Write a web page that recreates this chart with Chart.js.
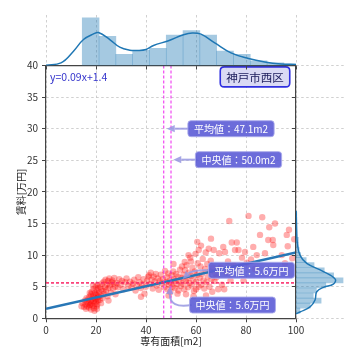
<!DOCTYPE html>
<html>
<head>
<meta charset="utf-8">
<script src="https://cdn.jsdelivr.net/npm/chart.js@4.4.0/dist/chart.umd.min.js"></script>
<style>
  html, body { margin: 0; padding: 0; background: #fff; }
  #wrap { position: relative; width: 360px; height: 360px; }
  #wrap canvas { position: absolute; left: 0; top: 0; }
</style>
</head>
<body>
<div id="wrap">
  <canvas id="main" width="360" height="360"></canvas>
  <canvas id="top" width="360" height="360"></canvas>
  <canvas id="side" width="360" height="360"></canvas>
</div>
<script>
// listings: [area m2, rent 万円]
const listings = [
  [14.2,1.9],[14.6,2.4],[15.2,1.8],[15.5,2.8],[15.8,2.2],[16.0,1.5],[16.2,3.2],[16.3,2.6],[16.5,1.9],[16.8,3.0],
  [17.0,2.4],[17.2,1.7],[17.4,3.4],[17.5,4.0],[17.6,2.1],[17.8,2.8],[17.9,2.2],[18.0,3.8],[18.0,1.4],[18.2,2.5],
  [18.3,4.2],[18.5,3.1],[18.6,2.0],[18.8,3.6],[18.8,5.2],[19.0,2.7],[19.0,4.6],[19.2,1.6],[19.3,3.3],[19.4,1.2],
  [19.5,2.3],[19.6,4.0],[19.8,3.0],[19.9,5.0],[20.0,2.6],[20.1,3.7],[20.2,1.9],[20.3,4.4],[20.4,1.5],[20.5,3.2],
  [20.5,2.2],[20.6,5.3],[20.7,3.9],[20.8,2.8],[20.9,4.8],[21.0,3.4],
  [21.3,4.1],[21.5,2.9],[21.7,5.0],[22.0,3.6],[22.0,2.4],[22.2,4.6],[22.4,5.5],[22.6,3.2],[22.9,4.3],[23.1,5.8],
  [23.3,3.9],[23.6,4.9],[23.8,6.1],[24.0,4.4],[24.3,5.3],[24.6,3.5],[24.8,5.9],[25.0,4.8],[25.0,2.8],[25.3,6.3],
  [25.6,5.2],[25.9,4.1],[26.2,5.7],[26.5,6.0],[26.8,4.7],[27.0,5.5],[27.3,6.4],[27.6,5.0],[27.8,3.8],
  [28.3,5.6],[28.8,4.9],[29.3,6.2],[29.8,5.3],[30.4,5.9],[31.0,4.6],[31.6,5.7],[32.2,6.3],[32.9,5.1],[33.6,5.8],
  [34.2,4.9],[34.8,5.5],[35.3,6.1],[35.8,4.4],[36.3,5.2],[36.9,6.5],[37.4,5.7],[37.9,4.8],[38.0,3.4],[38.5,5.4],
  [39.0,6.2],[39.4,3.9],[39.9,5.0],[40.4,5.9],[40.9,6.6],
  [41.2,6.8],[41.5,5.4],[41.9,7.2],[42.3,6.1],[42.7,4.7],[43.1,6.6],[43.5,5.8],[43.9,7.0],[44.3,5.2],[44.7,6.3],
  [45.1,4.5],[45.5,5.9],[45.9,6.9],[46.3,5.5],[46.8,6.2],[47.3,4.9],[47.6,7.5],
  [48.0,5.7],[48.3,6.5],[48.6,4.6],[48.9,7.1],[49.0,3.6],[49.2,5.3],[49.5,6.0],[49.8,4.2],[50.0,5.6],[50.3,6.8],
  [50.6,5.0],[50.9,7.4],[51.0,8.6],[51.2,6.2],[51.5,4.8],[51.8,5.9],[52.1,7.0],[52.4,5.4],[52.6,3.9],[52.7,6.6],
  [53.0,4.4],[53.3,6.0],[53.6,7.7],[53.9,5.1],[54.2,6.4],[54.4,8.2],
  [54.7,5.5],[55.0,6.9],[55.3,4.6],[55.5,8.9],[55.6,7.6],[55.9,5.9],[56.0,3.8],[56.2,8.4],[56.5,6.3],[56.8,4.9],
  [57.0,10.0],[57.1,7.2],[57.4,5.6],[57.7,9.6],[58.0,6.7],[58.0,9.0],[58.3,5.2],[58.6,8.0],[58.9,6.1],[59.0,3.5],
  [59.2,4.3],[59.5,7.4],[59.8,10.2],[60.0,4.6],[60.1,5.8],[60.4,6.9],[60.5,12.1],[60.7,8.7],[61.0,5.0],[61.1,10.8],
  [61.5,6.4],[61.8,8.2],[62.0,11.5],[62.1,5.3],[62.4,7.0],[62.7,9.4],[63.0,6.0],[63.3,4.7],[63.6,7.8],[63.9,10.4],
  [64.0,3.6],[64.2,5.7],[64.5,8.6],[64.8,6.6],[65.1,11.0],[65.4,5.0],[65.6,7.4],[65.9,9.1],[66.0,12.6],[66.2,6.2],
  [66.5,4.2],[66.8,8.0],[67.1,10.8],[67.4,5.9],[67.7,7.1],
  [68.2,6.5],[68.9,4.6],[69.3,10.3],[69.8,8.0],[70.4,5.3],[70.9,11.3],[71.3,4.6],[71.6,10.5],[72.2,7.2],[72.8,9.0],
  [73.3,15.4],[73.8,6.0],[74.3,12.0],
  [75.0,8.4],[75.6,10.8],[76.3,12.0],[77.0,10.8],[77.6,7.4],[78.4,9.6],[79.0,6.0],[79.6,10.5],[80.3,8.8],[81.0,16.2],
  [82.0,9.3],[82.9,11.3],[83.6,7.8],[84.3,10.0],[85.6,13.2],[86.5,16.0],[87.6,10.3],
  [88.9,12.4],[89.3,14.4],[90.7,12.4],[90.9,11.6],[91.6,15.0],[94.3,10.0],
  [95.6,8.7],[96.3,13.2],[96.7,11.4],[97.2,14.0],[98.5,9.5],[99.3,12.5]
];

// fitted line, as drawn
const regLine = [[0, 1.5], [100, 10.4]];
const fitText = 'y=0.09x+1.4';
const wardName = '神戸市西区';
const areaMean = 47.1, areaMedian = 50.0;
const rentMean = 5.6, rentMedian = 5.6;

// top marginal: area histogram + kde
const areaBins = [17.86, 24.58, 31.30, 38.02, 44.74, 51.46, 58.18, 64.90, 71.62, 78.34, 85.06, 91.78, 98.50];
const areaCounts = [72, 44, 17, 23, 26, 46, 53, 46, 22, 17, 7, 4, 2];
const areaKde = [[0,0.5],[6,3.9],[11,21.6],[15,39.3],[19,47.8],[21,49.9],[25.5,39.3],[29.5,27.7],[33.5,23.1],
  [36.5,22.7],[40,24.2],[43,30.3],[49,37.5],[55,46.6],[58.5,49.3],[62,47.4],[67.5,34.2],[74,19.1],[81,10.6],
  [87.5,5.4],[94,2.4],[100,1.5]];

// right marginal: rent histogram + kde
const rentBins = [1.2, 2.0, 2.8, 3.6, 4.4, 5.2, 6.0, 6.8, 7.6, 8.4, 9.2, 10.0, 10.8, 11.6, 12.4, 13.2, 14.0, 14.8, 15.6, 16.4];
const rentCounts = [5, 18, 32, 22, 26, 38, 60, 48, 36, 23, 13, 6, 4, 3, 3, 1, 1, 1, 1, 1];
const rentKde = [[0.7,0],[1.0,5.1],[1.8,17.9],[2.9,24.3],[4.2,26.4],[4.9,35],[5.4,47.6],[6.2,50],[7.4,35],
  [8.7,13.7],[10.0,5],[11.9,1.7],[14,0.8],[17,0.2]];

const xTicks = [0, 20, 40, 60, 80, 100];
const yTicks = [0, 5, 10, 15, 20, 25, 30, 35, 40];

const FONT = '"Noto Sans CJK JP", "Noto Sans", sans-serif';
Chart.defaults.font.family = FONT;
Chart.defaults.font.size = 10;

const HIST = 'rgba(31,119,180,0.4)';
const KDE = '#1f77b4';
const GRID = '#c4c4c4';
const AXIS = '#444';

function gridOpts() {
  return { color: GRID, lineWidth: 0.8, tickColor: AXIS, tickLength: 4, tickWidth: 1, offset: false };
}
function borderOpts() {
  return { color: AXIS, width: 1.2, dash: [2.5, 2.5] };
}
const noPlugins = { legend: { display: false }, tooltip: { enabled: false } };

// ---- annotations drawn on the main plot ----
function rrect(ctx, x, y, w, h, r) {
  ctx.beginPath();
  ctx.moveTo(x + r, y);
  ctx.lineTo(x + w - r, y); ctx.quadraticCurveTo(x + w, y, x + w, y + r);
  ctx.lineTo(x + w, y + h - r); ctx.quadraticCurveTo(x + w, y + h, x + w - r, y + h);
  ctx.lineTo(x + r, y + h); ctx.quadraticCurveTo(x, y + h, x, y + h - r);
  ctx.lineTo(x, y + r); ctx.quadraticCurveTo(x, y, x + r, y);
  ctx.closePath();
}
function arrow(ctx, sx, sy, cx, cy, tx, ty, color) {
  const a = Math.atan2(ty - cy, tx - cx);
  const hl = 8, hw = 3.6;
  const bx = tx - hl * Math.cos(a), by = ty - hl * Math.sin(a);
  ctx.strokeStyle = color; ctx.fillStyle = color; ctx.lineWidth = 2;
  ctx.setLineDash([]);
  ctx.beginPath(); ctx.moveTo(sx, sy); ctx.quadraticCurveTo(cx, cy, bx, by); ctx.stroke();
  ctx.beginPath();
  ctx.moveTo(tx, ty);
  ctx.lineTo(bx + hw * Math.sin(a), by - hw * Math.cos(a));
  ctx.lineTo(bx - hw * Math.sin(a), by + hw * Math.cos(a));
  ctx.closePath(); ctx.fill();
}

const callouts = [
  { text: '平均値：' + areaMean.toFixed(1) + 'm2', at: [74, 30.0], tip: [48.3, 30.0] },
  { text: '中央値：' + areaMedian.toFixed(1) + 'm2', at: [77, 25.1], tip: [50.9, 25.1] },
  { text: '平均値：' + rentMean.toFixed(1) + '万円', at: [82.2, 7.6], tip: [54.7, 6.2], bend: [58.4, 7.7] },
  { text: '中央値：' + rentMedian.toFixed(1) + '万円', at: [74.6, 2.1], tip: [49.6, 5.1], bend: [49.4, 1.5] }
];

const notes = {
  id: 'notes',
  afterDatasetsDraw(chart) {
    const { ctx, chartArea: ca, scales: { x, y } } = chart;
    ctx.save();
    ctx.beginPath(); ctx.rect(ca.left, ca.top, ca.right - ca.left, ca.bottom - ca.top); ctx.clip();
    ctx.lineWidth = 1;
    ctx.setLineDash([3, 2]);
    ctx.strokeStyle = '#ee22ee';
    [areaMean, areaMedian].forEach(v => {
      const px = x.getPixelForValue(v);
      ctx.beginPath(); ctx.moveTo(px, ca.top); ctx.lineTo(px, ca.bottom); ctx.stroke();
    });
    [[rentMedian, '#ee22ee'], [rentMean, '#ff2020']].forEach(([v, c]) => {
      const py = y.getPixelForValue(v);
      ctx.strokeStyle = c;
      ctx.beginPath(); ctx.moveTo(ca.left, py); ctx.lineTo(ca.right, py); ctx.stroke();
    });
    ctx.restore();

    ctx.save();
    // fitted equation
    ctx.font = '10.5px ' + FONT;
    ctx.fillStyle = '#3535cc';
    ctx.textAlign = 'left'; ctx.textBaseline = 'middle';
    ctx.fillText(fitText, x.getPixelForValue(1.6), y.getPixelForValue(38.2));

    // ward name box
    ctx.font = '11.5px ' + FONT;
    const wx = x.getPixelForValue(83.6), wy = y.getPixelForValue(38.2);
    const ww = ctx.measureText(wardName).width + 12, wh = 20;
    rrect(ctx, wx - ww / 2, wy - wh / 2, ww, wh, 4);
    ctx.fillStyle = '#dadaf4'; ctx.fill();
    ctx.lineWidth = 1.6; ctx.strokeStyle = '#2f2fe0'; ctx.stroke();
    ctx.fillStyle = '#20205e'; ctx.textAlign = 'center';
    ctx.fillText(wardName, wx, wy + 0.5);

    // callouts with arrows
    ctx.font = '10px ' + FONT;
    callouts.forEach(c => {
      const cx = x.getPixelForValue(c.at[0]), cy = y.getPixelForValue(c.at[1]);
      const w = ctx.measureText(c.text).width + 12, h = 16;
      const tx = x.getPixelForValue(c.tip[0]), ty = y.getPixelForValue(c.tip[1]);
      const sx = cx - w / 2 + 2, sy = cy;
      const bx = c.bend ? x.getPixelForValue(c.bend[0]) : (sx + tx) / 2;
      const by = c.bend ? y.getPixelForValue(c.bend[1]) : (sy + ty) / 2;
      arrow(ctx, sx, sy, bx, by, tx, ty, 'rgba(150,150,225,0.85)');
      rrect(ctx, cx - w / 2, cy - h / 2, w, h, 3);
      ctx.fillStyle = 'rgba(92,92,214,0.9)'; ctx.fill();
      ctx.lineWidth = 1; ctx.strokeStyle = 'rgba(170,170,235,0.9)'; ctx.stroke();
      ctx.fillStyle = '#fff'; ctx.textAlign = 'center'; ctx.textBaseline = 'middle';
      ctx.fillText(c.text, cx, cy + 0.5);
    });
    ctx.restore();
  }
};

// ---- main scatter ----
new Chart(document.getElementById('main'), {
  type: 'scatter',
  data: {
    datasets: [
      {
        type: 'line',
        data: regLine.map(([a, r]) => ({ x: a, y: r })),
        borderColor: '#2877b6', borderWidth: 2.5, pointRadius: 0, fill: false, order: 0, clip: 0
      },
      {
        data: listings.map(([a, r]) => ({ x: a, y: r })),
        backgroundColor: 'rgba(255,0,0,0.32)', borderColor: 'rgba(0,0,0,0)', borderWidth: 0,
        pointRadius: 3.2, order: 1, clip: 0
      }
    ]
  },
  options: {
    responsive: false, animation: false, devicePixelRatio: 1, events: [],
    layout: { padding: { top: 65.5, right: 64, left: 0, bottom: 0 } },
    plugins: noPlugins,
    scales: {
      x: {
        type: 'linear', min: 0, max: 100,
        afterBuildTicks: s => { s.ticks = xTicks.map(v => ({ value: v })); },
        ticks: { color: '#333', padding: 2, maxRotation: 0 },
        grid: gridOpts(), border: borderOpts(),
        title: { display: true, text: '専有面積[m2]', color: '#222', font: { size: 10 }, padding: { top: 0, bottom: 13 } },
        afterFit: s => { s.height = 41.7; }
      },
      y: {
        type: 'linear', min: 0, max: 40,
        afterBuildTicks: s => { s.ticks = yTicks.map(v => ({ value: v })); },
        ticks: { color: '#333', padding: 4 },
        grid: gridOpts(), border: borderOpts(),
        title: { display: true, text: '賃料[万円]', color: '#222', font: { size: 10 }, padding: { top: 15, bottom: 0 } },
        afterFit: s => { s.width = 46; }
      }
    }
  },
  plugins: [notes]
});

// ---- top marginal ----
new Chart(document.getElementById('top'), {
  type: 'bar',
  data: {
    datasets: [
      {
        type: 'line',
        data: areaKde.map(([a, d]) => ({ x: a, y: d })),
        borderColor: KDE, borderWidth: 1.5, pointRadius: 0, tension: 0.4, fill: false, order: 0, clip: 0
      },
      {
        data: areaBins.map((b, i) => ({ x: b, y: areaCounts[i] })),
        backgroundColor: HIST, borderWidth: 0, barPercentage: 1, categoryPercentage: 1, order: 1, clip: 0
      }
    ]
  },
  options: {
    responsive: false, animation: false, devicePixelRatio: 1, events: [],
    layout: { padding: { top: 15, right: 64, left: 46, bottom: 0 } },
    plugins: noPlugins,
    scales: {
      x: {
        type: 'linear', min: 0, max: 100, offset: false,
        afterBuildTicks: s => { s.ticks = xTicks.map(v => ({ value: v })); },
        ticks: { display: false },
        grid: gridOpts(), border: borderOpts(),
        afterFit: s => { s.height = 294.5; }
      },
      y: { type: 'linear', min: 0, max: 76.4, display: false }
    }
  }
});

// ---- right marginal ----
new Chart(document.getElementById('side'), {
  type: 'bar',
  data: {
    datasets: [
      {
        type: 'line',
        data: rentKde.map(([r, d]) => ({ x: d, y: r })),
        borderColor: KDE, borderWidth: 1.5, pointRadius: 0, tension: 0.4, fill: false, order: 0, clip: 0
      },
      {
        data: rentBins.map((b, i) => ({ x: rentCounts[i], y: b })),
        backgroundColor: HIST, borderWidth: 0, barPercentage: 1, categoryPercentage: 1, order: 1, clip: 0
      }
    ]
  },
  options: {
    indexAxis: 'y',
    responsive: false, animation: false, devicePixelRatio: 1, events: [],
    layout: { padding: { top: 65.5, right: 15, left: 0, bottom: 41.7 } },
    plugins: noPlugins,
    scales: {
      y: {
        type: 'linear', min: 0, max: 40, offset: false,
        afterBuildTicks: s => { s.ticks = yTicks.map(v => ({ value: v })); },
        ticks: { display: false },
        grid: gridOpts(), border: borderOpts(),
        afterFit: s => { s.width = 296; }
      },
      x: { type: 'linear', min: 0, max: 62.5, display: false }
    }
  }
});
</script>
</body>
</html>
